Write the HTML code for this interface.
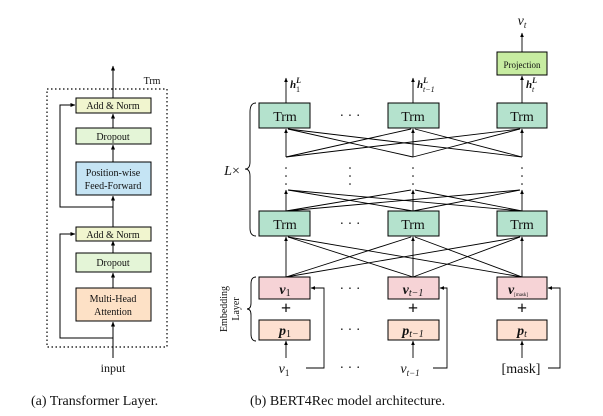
<!DOCTYPE html>
<html><head><meta charset="utf-8"><style>
body{margin:0;background:#fff}
svg{display:block}
text{font-family:"Liberation Serif",serif;fill:#111}
</style></head><body>
<svg width="603" height="416" viewBox="0 0 603 416" xmlns="http://www.w3.org/2000/svg">
<defs>
<marker id="a" viewBox="0 0 6 6" refX="5.5" refY="3" markerWidth="5" markerHeight="5" orient="auto"><path d="M0,0.5 L6,3 L0,5.5 z" fill="#000"/></marker>
</defs>
<g stroke="#000" stroke-width="1" fill="none">
<rect x="47" y="89" width="120" height="258" stroke-dasharray="1.5,2.5" stroke-width="1.2"/>
<line x1="113" y1="358" x2="113" y2="322" marker-end="url(#a)"/>
<line x1="113" y1="288" x2="113" y2="273" marker-end="url(#a)"/>
<line x1="113" y1="253" x2="113" y2="241" marker-end="url(#a)"/>
<line x1="113" y1="227" x2="113" y2="196" marker-end="url(#a)"/>
<line x1="113" y1="162" x2="113" y2="145" marker-end="url(#a)"/>
<line x1="113" y1="128" x2="113" y2="114" marker-end="url(#a)"/>
<line x1="113" y1="98" x2="113" y2="66" marker-end="url(#a)"/>
<polyline points="113,338 60,338 60,234 75,234" marker-end="url(#a)"/>
<polyline points="113,207 60,207 60,105 75,105" marker-end="url(#a)"/>
</g>
<g stroke="#000" stroke-width="1">
<rect x="76" y="98" width="75" height="15" fill="#f1f5cf"/>
<rect x="76" y="128" width="75" height="16" fill="#e4f5d7"/>
<rect x="76" y="162" width="75" height="33" fill="#c5e4f4"/>
<rect x="76" y="227" width="75" height="14" fill="#f1f5cf"/>
<rect x="76" y="253" width="75" height="19" fill="#e4f5d7"/>
<rect x="76" y="288" width="75" height="33" fill="#fde1c6"/>
</g>
<g font-size="10" text-anchor="middle">
<text x="113" y="109">Add &amp; Norm</text>
<text x="113" y="140">Dropout</text>
<text x="113" y="176">Position-wise</text>
<text x="113" y="189">Feed-Forward</text>
<text x="113" y="238">Add &amp; Norm</text>
<text x="113" y="266">Dropout</text>
<text x="113" y="302">Multi-Head</text>
<text x="113" y="315">Attention</text>
<text x="152" y="84">Trm</text>
<text x="113" y="372" font-size="12">input</text>
</g>
<g stroke="#000" stroke-width="0.9" fill="none">
<line x1="286" y1="157" x2="286" y2="129" marker-end="url(#a)"/>
<line x1="413" y1="157" x2="413" y2="129" marker-end="url(#a)"/>
<line x1="522" y1="157" x2="522" y2="129" marker-end="url(#a)"/>
<line x1="286" y1="157" x2="411" y2="129"/>
<line x1="286" y1="157" x2="520" y2="129"/>
<line x1="413" y1="157" x2="288" y2="129"/>
<line x1="413" y1="157" x2="520" y2="129"/>
<line x1="522" y1="157" x2="288" y2="129"/>
<line x1="522" y1="157" x2="415" y2="129"/>
<line x1="286" y1="211" x2="286" y2="190" marker-end="url(#a)"/>
<line x1="413" y1="211" x2="413" y2="190" marker-end="url(#a)"/>
<line x1="522" y1="211" x2="522" y2="190" marker-end="url(#a)"/>
<line x1="286" y1="211" x2="411" y2="190"/>
<line x1="286" y1="211" x2="520" y2="190"/>
<line x1="413" y1="211" x2="288" y2="190"/>
<line x1="413" y1="211" x2="520" y2="190"/>
<line x1="522" y1="211" x2="288" y2="190"/>
<line x1="522" y1="211" x2="415" y2="190"/>
<line x1="286" y1="277" x2="286" y2="237" marker-end="url(#a)"/>
<line x1="413" y1="277" x2="413" y2="237" marker-end="url(#a)"/>
<line x1="522" y1="277" x2="522" y2="237" marker-end="url(#a)"/>
<line x1="286" y1="277" x2="411" y2="237"/>
<line x1="286" y1="277" x2="520" y2="237"/>
<line x1="413" y1="277" x2="288" y2="237"/>
<line x1="413" y1="277" x2="520" y2="237"/>
<line x1="522" y1="277" x2="288" y2="237"/>
<line x1="522" y1="277" x2="415" y2="237"/>
<line x1="286" y1="103" x2="286" y2="78" marker-end="url(#a)"/>
<line x1="413" y1="103" x2="413" y2="78" marker-end="url(#a)"/>
<line x1="522" y1="103" x2="522" y2="76" marker-end="url(#a)"/>
<line x1="522" y1="52" x2="522" y2="33" marker-end="url(#a)"/>
<line x1="286" y1="358" x2="286" y2="341" marker-end="url(#a)"/>
<line x1="413" y1="358" x2="413" y2="341" marker-end="url(#a)"/>
<line x1="522" y1="358" x2="522" y2="341" marker-end="url(#a)"/>
<polyline points="306,368 324,368 324,288 311,288" marker-end="url(#a)"/>
<polyline points="433,368 447,368 447,288 440,288" marker-end="url(#a)"/>
<polyline points="548,368 560,368 560,288 548,288" marker-end="url(#a)"/>
<path d="M256,103 Q250,103 250,112 L250,162 Q250,169 245,169 Q250,169 250,176 L250,228 Q250,236 256,236"/>
<path d="M256,277 Q251,277 251,284 L251,303 Q251,309 247,309 Q251,309 251,315 L251,334 Q251,341 256,341"/>
</g>
<g fill="#000">
<circle cx="286" cy="168" r="0.8"/><circle cx="286" cy="176" r="0.8"/><circle cx="286" cy="184" r="0.8"/>
<circle cx="350" cy="168" r="0.8"/><circle cx="350" cy="176" r="0.8"/><circle cx="350" cy="184" r="0.8"/>
<circle cx="413" cy="168" r="0.8"/><circle cx="413" cy="176" r="0.8"/><circle cx="413" cy="184" r="0.8"/>
<circle cx="522" cy="168" r="0.8"/><circle cx="522" cy="176" r="0.8"/><circle cx="522" cy="184" r="0.8"/>
</g>
<g stroke="#000" stroke-width="1">
<rect x="259" y="103" width="51" height="25" fill="#b4e2cd"/>
<rect x="388" y="103" width="51" height="25" fill="#b4e2cd"/>
<rect x="497" y="103" width="50" height="25" fill="#b4e2cd"/>
<rect x="259" y="211" width="51" height="25" fill="#b4e2cd"/>
<rect x="388" y="211" width="51" height="25" fill="#b4e2cd"/>
<rect x="497" y="211" width="50" height="25" fill="#b4e2cd"/>
<rect x="497" y="52" width="50" height="23" fill="#c7eca1"/>
<rect x="259" y="277" width="51" height="22" fill="#f6d3d6"/>
<rect x="388" y="277" width="51" height="22" fill="#f6d3d6"/>
<rect x="497" y="277" width="50" height="22" fill="#f6d3d6"/>
<rect x="259" y="320" width="51" height="20" fill="#fde0d1"/>
<rect x="388" y="320" width="51" height="20" fill="#fde0d1"/>
<rect x="497" y="320" width="50" height="20" fill="#fde0d1"/>
</g>
<g font-size="14" text-anchor="middle">
<text x="285" y="121">Trm</text><text x="413" y="121">Trm</text><text x="522" y="121">Trm</text>
<text x="285" y="229">Trm</text><text x="413" y="229">Trm</text><text x="522" y="229">Trm</text>
<text x="350" y="120">· · ·</text><text x="350" y="228">· · ·</text>
<text x="350" y="293">· · ·</text><text x="350" y="334">· · ·</text><text x="350" y="372">· · ·</text>
<text x="522" y="68" font-size="9">Projection</text>
<text x="522" y="25" font-style="italic">v<tspan font-size="9" dy="3">t</tspan></text>
<text x="285" y="294" font-weight="bold" font-style="italic">v<tspan font-size="10" font-weight="normal" font-style="normal" dy="2">1</tspan></text>
<text x="413" y="294" font-weight="bold" font-style="italic">v<tspan font-size="10" font-weight="normal" dy="2">t−1</tspan></text>
<text x="518" y="294" font-weight="bold" font-style="italic">v<tspan font-size="5" font-weight="normal" font-style="normal" dy="2">[mask]</tspan></text>
<text x="285" y="335" font-weight="bold" font-style="italic">p<tspan font-size="10" font-weight="normal" font-style="normal" dy="2">1</tspan></text>
<text x="413" y="335" font-weight="bold" font-style="italic">p<tspan font-size="10" font-weight="normal" dy="2">t−1</tspan></text>
<text x="522" y="335" font-weight="bold" font-style="italic">p<tspan font-size="10" font-weight="normal" dy="2">t</tspan></text>
<text x="286" y="314" font-size="18" font-weight="bold">+</text>
<text x="413" y="314" font-size="18" font-weight="bold">+</text>
<text x="522" y="314" font-size="18" font-weight="bold">+</text>
<text x="284" y="373" font-style="italic">v<tspan font-size="9" font-style="normal" dy="3">1</tspan></text>
<text x="410" y="373" font-style="italic">v<tspan font-size="9" dy="3">t−1</tspan></text>
<text x="521" y="373">[mask]</text>
<text x="232" y="175" font-style="italic">L<tspan font-style="normal">×</tspan></text>
</g>
<g font-size="11" font-style="italic" font-weight="bold">
<text x="290" y="88">h<tspan font-size="8" dy="-5">L</tspan><tspan font-size="8" font-weight="normal" font-style="normal" dx="-5" dy="9">1</tspan></text>
<text x="417" y="88">h<tspan font-size="8" dy="-5">L</tspan><tspan font-size="8" font-weight="normal" dx="-5" dy="9">t−1</tspan></text>
<text x="526" y="88">h<tspan font-size="8" dy="-5">L</tspan><tspan font-size="8" font-weight="normal" dx="-5" dy="9">t</tspan></text>
</g>
<g font-size="10" text-anchor="middle">
<text transform="translate(227,309) rotate(-90)">Embedding</text>
<text transform="translate(239,309) rotate(-90)">Layer</text>
</g>
<g font-size="14">
<text x="31" y="405">(a) Transformer Layer.</text>
<text x="250" y="405">(b) BERT4Rec model architecture.</text>
</g>
</svg>
</body></html>
